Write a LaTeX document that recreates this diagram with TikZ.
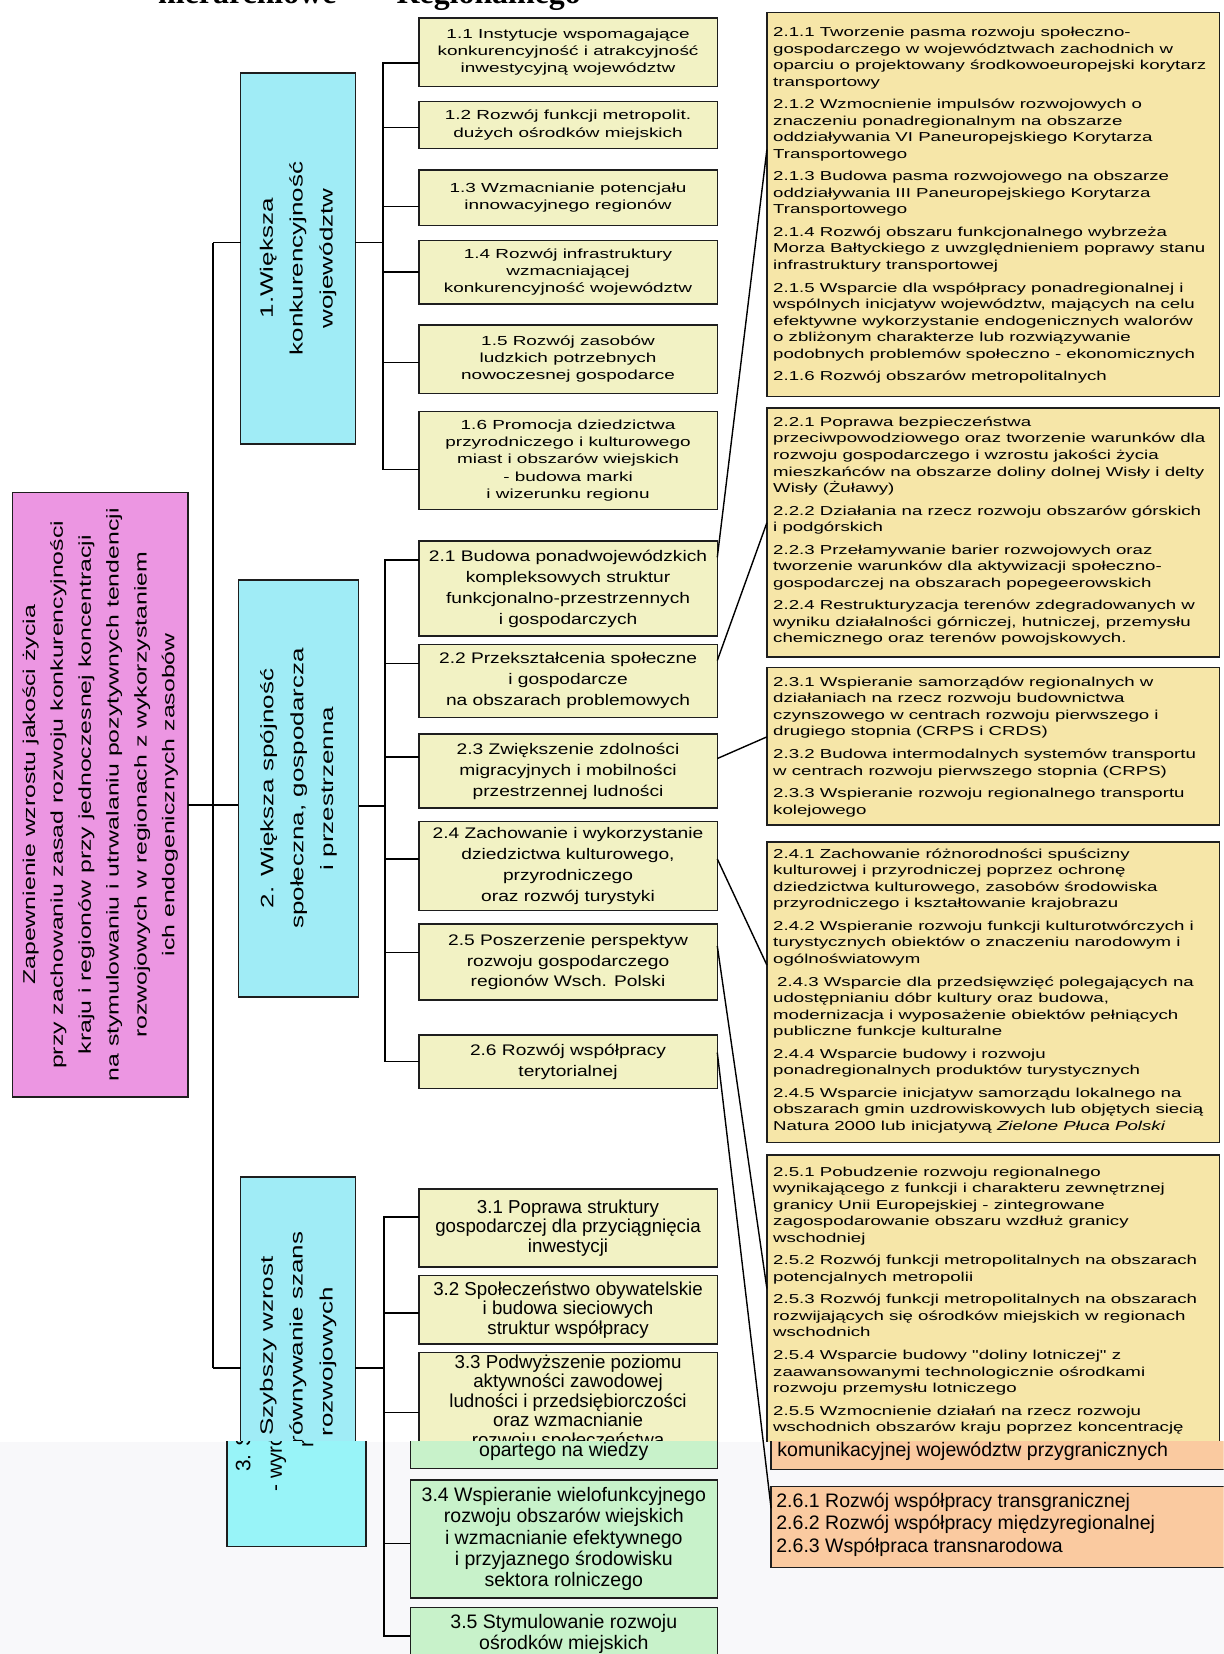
\documentclass[tikz,border=0pt]{standalone}
\usepackage{fontspec}
\setmainfont{Liberation Sans}
\newfontfamily\fA[FakeStretch=1.44]{Liberation Sans}
\newfontfamily\fB[FakeStretch=1.25]{Liberation Sans}
\newfontfamily\fC[FakeStretch=1.45]{Liberation Sans}
\newfontfamily\fD{Liberation Sans}
\newfontfamily\fH{Liberation Serif}
\usetikzlibrary{calc}
\definecolor{cpink}{RGB}{236,150,226}
\definecolor{ccyan}{RGB}{160,236,246}
\definecolor{cyelA}{RGB}{242,242,196}
\definecolor{cyelR}{RGB}{246,230,168}
\definecolor{ccyanL}{RGB}{152,244,248}
\definecolor{cgreen}{RGB}{200,242,202}
\definecolor{corange}{RGB}{250,202,160}
\definecolor{lowbg}{RGB}{248,248,250}
\definecolor{bordc}{RGB}{30,30,30}
\newcommand\mkbox[7]{\node[#6, minimum width={(#4-#2)*0.5276bp}, minimum height={(#5-#3)*0.5276bp}] (#1) at ({(#2+#4)/2},{(#3+#5)/2}) {#7};}
\newcommand\mkrbox[7]{\node[#6, rotate=90, minimum width={(#5-#3)*0.5276bp}, minimum height={(#4-#2)*0.5276bp}] (#1) at ({(#2+#4)/2},{(#3+#5)/2}) {#7};}
\tikzset{
  every node/.style={inner sep=0pt, outer sep=0pt},
  bord/.style={draw=bordc, line width=0.75bp},
  conn/.style={draw=black, line width=0.7bp},
  pinkbox/.style={bord, fill=cpink, align=center, font={\fC\fontsize{8.6}{14}\selectfont}},
  cyanbox/.style={bord, fill=ccyan, align=center, font={\fC\fontsize{9}{15}\selectfont}},
  colA/.style={bord, fill=cyelA, align=center, font={\fA\fontsize{6.6}{8.7}\selectfont}},
  colB/.style={bord, fill=cyelA, align=center, font={\fB\fontsize{7.7}{10.5}\selectfont}},
  colC/.style={bord, fill=cyelA, align=center, font={\fD\fontsize{9.4}{9.8}\selectfont}},
  colCtext/.style={align=center, font={\fD\fontsize{9.4}{9.8}\selectfont}},
  rbox/.style={bord, fill=cyelR},
  rtext/.style={align=left, font={\fA\fontsize{6.5}{8.3}\selectfont}},
  cyanlow/.style={bord, fill=ccyanL},
  cyanlowtext/.style={align=center, font={\fD\fontsize{10.5}{15.8}\selectfont}},
  greenbox/.style={bord, fill=cgreen, align=center, font={\fD\fontsize{9.8}{10.6}\selectfont}},
  greentext/.style={font={\fD\fontsize{9.8}{10.6}\selectfont}},
  orangebox/.style={bord, fill=corange},
  orangetext/.style={align=left, font={\fD\fontsize{9.8}{11.2}\selectfont}},
  headtext/.style={font={\fH\bfseries\fontsize{16}{19}\selectfont}}
}
\begin{document}
\begin{tikzpicture}[x=0.5276bp, y=-0.5276bp]
\useasboundingbox (0,0) rectangle (1160,1568);
\fill[white] (0,0) rectangle (1160,1568);

% header (cut by the page edge)
\node[headtext, anchor=base west] (h1) at (150,3) {hierarchiowe};
\node[headtext, anchor=base west] (h2) at (376,3) {Regionalnego};

% main goal
\mkrbox{pink}{12}{467}{178}{1040}{pinkbox}{Zapewnienie wzrostu jakości życia\\przy zachowaniu zasad rozwoju konkurencyjności\\kraju i regionów przy jednoczesnej koncentracji\\na stymulowaniu i utrwalaniu pozytywnych tendencji\\rozwojowych w regionach z wykorzystaniem\\ich endogenicznych zasobów}

% strategic goals
\mkrbox{c1}{228}{69}{337}{421}{cyanbox}{1.Większa\\konkurencyjność\\województw}
\mkrbox{c2}{226}{550}{340}{945}{cyanbox}{2. Większa spójność\\społeczna, gospodarcza\\i przestrzenna}
\mkrbox{c3}{228}{1116}{337}{1466}{cyanbox}{3. Szybszy wzrost\\- wyrównywanie szans\\rozwojowych}

% column 1
\mkbox{b11}{397}{17}{680}{82}{colA}{1.1 Instytucje wspomagające\\konkurencyjność i atrakcyjność\\inwestycyjną województw}
\mkbox{b12}{397}{96}{680}{141}{colA}{1.2 Rozwój funkcji metropolit.\\dużych ośrodków miejskich}
\mkbox{b13}{397}{161}{680}{214}{colA}{1.3 Wzmacnianie potencjału\\innowacyjnego regionów}
\mkbox{b14}{397}{228}{680}{288}{colA}{1.4 Rozwój infrastruktury\\wzmacniającej\\konkurencyjność województw}
\mkbox{b15}{397}{308}{680}{373}{colA}{1.5 Rozwój zasobów\\ludzkich potrzebnych\\nowoczesnej gospodarce}
\mkbox{b16}{397}{390}{680}{483}{colA}{1.6 Promocja dziedzictwa\\przyrodniczego i kulturowego\\miast i obszarów wiejskich\\- budowa marki\\i wizerunku regionu}

% column 2
\mkbox{b21}{397}{513}{680}{603}{colB}{2.1 Budowa ponadwojewódzkich\\kompleksowych struktur\\funkcjonalno-przestrzennych\\i gospodarczych}
\mkbox{b22}{397}{611}{680}{680}{colB}{2.2 Przekształcenia społeczne\\i gospodarcze\\na obszarach problemowych}
\mkbox{b23}{397}{696}{680}{766}{colB}{2.3 Zwiększenie zdolności\\migracyjnych i mobilności\\przestrzennej ludności}
\mkbox{b24}{397}{779}{680}{863}{colB}{2.4 Zachowanie i wykorzystanie\\dziedzictwa kulturowego,\\przyrodniczego\\oraz rozwój turystyki}
\mkbox{b25}{397}{876}{680}{948}{colB}{2.5 Poszerzenie perspektyw\\rozwoju gospodarczego\\regionów Wsch. Polski}
\mkbox{b26}{397}{981}{680}{1032}{colB}{2.6 Rozwój współpracy\\terytorialnej}

% column 3 (upper part)
\mkbox{b31}{397}{1127}{680}{1201}{colC}{3.1 Poprawa struktury\\gospodarczej dla przyciągnięcia\\inwestycji}
\mkbox{b32}{397}{1209}{680}{1274}{colC}{3.2 Społeczeństwo obywatelskie\\i budowa sieciowych\\struktur współpracy}
\mkbox{b33}{397}{1282}{680}{1392}{colC}{}
\node[colCtext, anchor=north] (t33) at ($(b33.north)+(0,2)$) {3.3 Podwyższenie poziomu\\aktywności zawodowej\\ludności i przedsiębiorczości\\oraz wzmacnianie\\rozwoju społeczeństwa};

% right column
\mkbox{r21}{727}{12}{1156}{376}{rbox}{}
\node[rtext, anchor=north west] (t21) at ($(r21.north west)+(6,13.2)$) {\rule{0pt}{5bp}2.1.1 Tworzenie pasma rozwoju społeczno-\\
gospodarczego w województwach zachodnich w\\
oparciu o projektowany środkowoeuropejski korytarz\\
transportowy\\[3bp]
2.1.2 Wzmocnienie impulsów rozwojowych o\\
znaczeniu ponadregionalnym na obszarze\\
oddziaływania VI Paneuropejskiego Korytarza\\
Transportowego\\[3bp]
2.1.3 Budowa pasma rozwojowego na obszarze\\
oddziaływania III Paneuropejskiego Korytarza\\
Transportowego\\[3bp]
2.1.4 Rozwój obszaru funkcjonalnego wybrzeża\\
Morza Bałtyckiego z uwzględnieniem poprawy stanu\\
infrastruktury transportowej\\[3bp]
2.1.5 Wsparcie dla współpracy ponadregionalnej i\\
wspólnych inicjatyw województw, mających na celu\\
efektywne wykorzystanie endogenicznych walorów\\
o zbliżonym charakterze lub rozwiązywanie\\
podobnych problemów społeczno - ekonomicznych\\[3bp]
2.1.6 Rozwój obszarów metropolitalnych};

\mkbox{r22}{727}{387}{1156}{623}{rbox}{}
\node[rtext, anchor=north west] (t22) at ($(r22.north west)+(6,7.8)$) {\rule{0pt}{5bp}2.2.1 Poprawa bezpieczeństwa\\
przeciwpowodziowego oraz tworzenie warunków dla\\
rozwoju gospodarczego i wzrostu jakości życia\\
mieszkańców na obszarze doliny dolnej Wisły i delty\\
Wisły (Żuławy)\\[3bp]
2.2.2 Działania na rzecz rozwoju obszarów górskich\\
i podgórskich\\[3bp]
2.2.3 Przełamywanie barier rozwojowych oraz\\
tworzenie warunków dla aktywizacji społeczno-\\
gospodarczej na obszarach popegeerowskich\\[3bp]
2.2.4 Restrukturyzacja terenów zdegradowanych w\\
wyniku działalności górniczej, hutniczej, przemysłu\\
chemicznego oraz terenów powojskowych.};

\mkbox{r23}{727}{633}{1156}{782}{rbox}{}
\node[rtext, anchor=north west] (t23) at ($(r23.north west)+(6,8.2)$) {\rule{0pt}{5bp}2.3.1 Wspieranie samorządów regionalnych w\\
działaniach na rzecz rozwoju budownictwa\\
czynszowego w centrach rozwoju pierwszego i\\
drugiego stopnia (CRPS i CRDS)\\[3bp]
2.3.2 Budowa intermodalnych systemów transportu\\
w centrach rozwoju pierwszego stopnia (CRPS)\\[3bp]
2.3.3 Wspieranie rozwoju regionalnego transportu\\
kolejowego};

\mkbox{r24}{727}{798}{1156}{1083}{rbox}{}
\node[rtext, anchor=north west] (t24) at ($(r24.north west)+(6,6.2)$) {\rule{0pt}{5bp}2.4.1 Zachowanie różnorodności spuścizny\\
kulturowej i przyrodniczej poprzez ochronę\\
dziedzictwa kulturowego, zasobów środowiska\\
przyrodniczego i kształtowanie krajobrazu\\[3bp]
2.4.2 Wspieranie rozwoju funkcji kulturotwórczych i\\
turystycznych obiektów o znaczeniu narodowym i\\
ogólnoświatowym\\[3bp]
\hspace{2bp}2.4.3 Wsparcie dla przedsięwzięć polegających na\\
udostępnianiu dóbr kultury oraz budowa,\\
modernizacja i wyposażenie obiektów pełniących\\
publiczne funkcje kulturalne\\[3bp]
2.4.4 Wsparcie budowy i rozwoju\\
ponadregionalnych produktów turystycznych\\[3bp]
2.4.5 Wsparcie inicjatyw samorządu lokalnego na\\
obszarach gmin uzdrowiskowych lub objętych siecią\\
Natura 2000 lub inicjatywą \textit{Zielone Płuca Polski}};

\mkbox{r25}{727}{1095}{1156}{1396}{rbox}{}
\node[rtext, anchor=north west] (t25) at ($(r25.north west)+(6,10.5)$) {\rule{0pt}{5bp}2.5.1 Pobudzenie rozwoju regionalnego\\
wynikającego z funkcji i charakteru zewnętrznej\\
granicy Unii Europejskiej - zintegrowane\\
zagospodarowanie obszaru wzdłuż granicy\\
wschodniej\\[3bp]
2.5.2 Rozwój funkcji metropolitalnych na obszarach\\
potencjalnych metropolii\\[3bp]
2.5.3 Rozwój funkcji metropolitalnych na obszarach\\
rozwijających się ośrodków miejskich w regionach\\
wschodnich\\[3bp]
2.5.4 Wsparcie budowy "doliny lotniczej" z\\
zaawansowanymi technologicznie ośrodkami\\
rozwoju przemysłu lotniczego\\[3bp]
2.5.5 Wzmocnienie działań na rzecz rozwoju\\
wschodnich obszarów kraju poprzez koncentrację};

% lower part of the page (different rendering)
\fill[lowbg] (0,1367) rectangle (1160,1568);
\begin{scope}
\clip (0,1367) rectangle (1160,1580);
\mkbox{c3low}{215}{1200}{347}{1466}{cyanlow}{}
\node[cyanlowtext, rotate=90] (c3lowt) at (262,1315) {3. Szybszy wzrost\\- wyrównywanie szans\\rozwojowych};
\mkbox{b33low}{389}{1282}{680}{1392}{greenbox}{}
\node[greentext, anchor=base] (t33low) at (534.5,1381) {opartego na wiedzy};
\mkbox{b34}{389}{1403}{680}{1515}{greenbox}{3.4 Wspieranie wielofunkcyjnego\\rozwoju obszarów wiejskich\\i wzmacnianie efektywnego\\i przyjaznego środowisku\\sektora rolniczego}
\mkbox{b35}{389}{1524}{680}{1574}{greenbox}{3.5 Stymulowanie rozwoju\\ośrodków miejskich}
\mkbox{r25low}{731}{1200}{1175}{1393}{orangebox}{}
\node[orangetext, anchor=base west] (t25low) at (737,1381) {komunikacyjnej województw przygranicznych};
\mkbox{r26}{731}{1409}{1175}{1486}{orangebox}{}
\node[orangetext, anchor=north west] (t26) at ($(r26.north west)+(5,5.8)$) {\rule{0pt}{7.5bp}2.6.1 Rozwój współpracy transgranicznej\\2.6.2 Rozwój współpracy międzyregionalnej\\2.6.3 Współpraca transnarodowa};
\end{scope}

% spine
\coordinate (s1) at (202,230);
\coordinate (s2) at (202,763);
\coordinate (s3) at (202,1297);
\draw[conn] (s1) -- (s3);
\draw[conn] (s1) -- (c1.north |- s1);
\draw[conn] (pink.south |- s2) -- (c2.north |- s2);
\draw[conn] (s3) -- (c3.north |- s3);

% brackets
\coordinate (k1) at (363,230);
\coordinate (k2) at (365,764);
\coordinate (k3) at (364,1297);
\draw[conn] (c1.south |- k1) -- (k1);
\draw[conn] (c2.south |- k2) -- (k2);
\draw[conn] (c3.south |- k3) -- (k3);
\foreach \n/\f in {11/0.66,12/0.55,13/0.66,14/0.5,15/0.55,16/0.59}{
  \coordinate (p\n) at ($(b\n.north west)!\f!(b\n.south west)$);
  \draw[conn] (k1) |- (p\n);
}
\foreach \n/\f in {21/0.2,22/0.26,23/0.31,24/0.42,25/0.375,26/0.5}{
  \coordinate (p\n) at ($(b\n.north west)!\f!(b\n.south west)$);
  \draw[conn] (k2) |- (p\n);
}
\foreach \n/\f in {31/0.36,32/0.55,33/0.52,34/0.54,35/0.54}{
  \coordinate (p\n) at ($(b\n.north west)!\f!(b\n.south west)$);
  \draw[conn] (k3) |- (p\n);
}

% links to detailed measures
\foreach \n/\f/\g in {21/0.17/0.357,22/0.22/0.46,23/0.33/0.44,24/0.42/0.41,25/0.29/0.42,26/0.33/0.27}{
  \coordinate (q\n) at ($(b\n.north east)!\f!(b\n.south east)$);
  \coordinate (d\n) at ($(r\n.north west)!\g!(r\n.south west)$);
  \draw[conn] (q\n) -- (d\n);
}
\end{tikzpicture}
\end{document}
